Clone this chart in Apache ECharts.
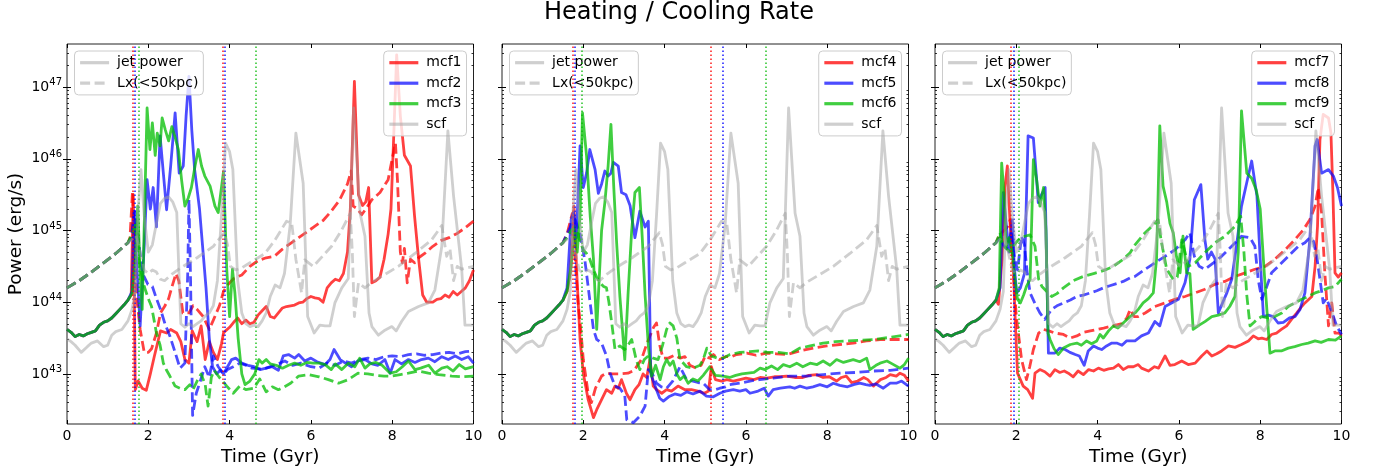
<!DOCTYPE html>
<html>
<head>
<meta charset="utf-8">
<script src="https://cdn.jsdelivr.net/npm/echarts@6/dist/echarts.min.js"></script>
<style>
  html, body { margin: 0; padding: 0; background: #fff; }
  #chart { width: 1379px; height: 474px; }
</style>
</head>
<body>
<div id="chart"></div>
<script>
// values as log10(power / erg s^-1), [time in Gyr, dex]
const scfJet = [[0,43.49],[0.1,43.45],[0.2,43.4],[0.35,43.3],[0.5,43.38],[0.6,43.43],[0.75,43.46],[0.9,43.38],[1.0,43.4],[1.1,43.54],[1.2,43.59],[1.35,43.62],[1.5,43.74],[1.6,43.9],[1.68,44.15],[1.75,45.3],[1.82,45.85],[1.9,45.2],[2.0,44.7],[2.1,44.8],[2.2,45.1],[2.3,45.38],[2.4,45.45],[2.5,45.47],[2.6,45.4],[2.7,45.25],[2.8,43.7],[2.9,43.65],[3.0,43.7],[3.1,43.66],[3.2,43.7],[3.3,43.74],[3.4,43.81],[3.5,43.85],[3.6,43.95],[3.7,44.3],[3.8,45.2],[3.9,46.22],[4.0,46.1],[4.08,45.85],[4.2,44.3],[4.3,43.85],[4.4,43.7],[4.5,43.66],[4.6,43.68],[4.7,43.66],[4.8,43.74],[4.9,43.85],[5.0,44.08],[5.12,44.24],[5.24,44.2],[5.35,44.4],[5.49,45.08],[5.63,46.36],[5.81,45.66],[5.92,43.8],[6.08,43.57],[6.22,43.68],[6.35,43.67],[6.47,43.67],[6.59,43.99],[6.76,44.2],[6.92,44.33],[7.05,46.71],[7.21,45.24],[7.33,44.92],[7.43,43.85],[7.5,43.66],[7.66,43.54],[7.82,43.61],[7.99,43.66],[8.1,43.6],[8.23,43.73],[8.4,43.87],[8.65,43.94],[8.89,43.99],[9.05,44.17],[9.22,44.78],[9.37,46.39],[9.51,45.48],[9.71,44.46],[9.79,43.68],[10,43.68]];
const scfLx = [[0,44.2],[0.3,44.3],[0.6,44.42],[0.9,44.55],[1.2,44.68],[1.5,44.83],[1.7,44.93],[1.8,44.7],[1.9,44.45],[2.0,44.4],[2.1,44.45],[2.2,44.42],[2.3,44.32],[2.4,44.3],[2.5,44.35],[2.6,44.4],[2.8,44.48],[3.0,44.55],[3.2,44.62],[3.4,44.7],[3.6,44.78],[3.8,44.92],[3.87,44.97],[3.95,44.8],[4.02,44.5],[4.15,44.45],[4.3,44.48],[4.5,44.55],[4.7,44.62],[4.87,44.68],[5.12,44.87],[5.4,45.13],[5.53,45.1],[5.63,44.6],[5.72,44.3],[5.77,44.13],[5.85,44.59],[6.06,44.5],[6.3,44.65],[6.51,44.78],[6.75,45.0],[6.97,45.24],[7.02,44.68],[7.07,43.8],[7.17,44.27],[7.33,44.2],[7.5,44.28],[7.74,44.36],[8.15,44.5],[8.56,44.68],[8.97,44.87],[9.22,45.07],[9.34,44.64],[9.42,44.75],[9.51,44.3],[9.6,44.5],[9.71,44.46],[9.85,44.48],[10,44.5]];

// all mcf runs share the same history before the first jet
const mcfJetEarly = [[0,43.62],[0.1,43.58],[0.2,43.52],[0.3,43.55],[0.4,43.53],[0.5,43.56],[0.6,43.58],[0.7,43.6],[0.8,43.68],[0.9,43.72],[1.0,43.74],[1.1,43.78],[1.2,43.84],[1.3,43.9],[1.4,43.96],[1.5,44.03]];
const lxEarly = [[0,44.2],[0.3,44.3],[0.6,44.42],[0.9,44.55],[1.2,44.68],[1.5,44.83]];

const mcf1Jet = [[1.58,44.1],[1.63,45.5],[1.68,42.78],[1.75,42.9],[1.85,42.8],[1.95,42.77],[2.05,43.0],[2.15,43.25],[2.3,43.6],[2.45,43.57],[2.55,43.62],[2.7,43.57],[2.8,43.45],[2.9,43.2],[3.0,43.15],[3.08,43.6],[3.2,43.45],[3.3,43.67],[3.4,43.2],[3.5,43.45],[3.6,43.3],[3.7,43.2],[3.8,43.42],[3.85,43.57],[3.9,43.6],[4.0,43.65],[4.1,43.72],[4.2,43.78],[4.3,43.7],[4.4,43.75],[4.5,43.7],[4.6,43.72],[4.7,43.82],[4.8,43.88],[4.9,43.94],[5.0,43.8],[5.1,43.78],[5.2,43.85],[5.3,43.92],[5.4,43.94],[5.5,43.95],[5.6,43.96],[5.7,43.99],[5.8,44.0],[5.9,44.05],[6.0,44.08],[6.1,44.06],[6.2,44.05],[6.3,44.0],[6.4,44.2],[6.5,44.27],[6.6,44.32],[6.7,44.3],[6.8,44.4],[6.9,44.7],[6.97,45.3],[7.07,47.08],[7.17,45.5],[7.27,45.35],[7.35,45.4],[7.42,45.6],[7.5,44.27],[7.6,44.3],[7.7,44.35],[7.8,44.6],[7.9,44.95],[7.97,45.3],[8.03,46.2],[8.11,47.45],[8.2,46.6],[8.3,46.05],[8.45,45.9],[8.55,45.2],[8.65,44.6],[8.75,44.1],[8.85,44.0],[9.0,44.0],[9.1,44.04],[9.2,44.05],[9.3,44.1],[9.4,44.07],[9.5,44.15],[9.6,44.1],[9.7,44.15],[9.8,44.2],[9.9,44.3],[10,44.45]];
const mcf1Lx = [[1.55,44.9],[1.61,45.53],[1.66,44.8],[1.72,44.04],[1.8,43.62],[1.9,43.3],[2.0,43.3],[2.08,43.35],[2.2,43.57],[2.3,43.85],[2.4,43.94],[2.5,44.05],[2.6,44.25],[2.68,44.4],[2.75,44.3],[2.85,43.85],[3.0,43.85],[3.1,43.95],[3.2,43.9],[3.35,43.8],[3.5,43.62],[3.6,43.75],[3.75,43.95],[3.85,44.15],[3.95,44.24],[4.1,44.33],[4.3,44.38],[4.5,44.5],[4.7,44.58],[4.9,44.62],[5.1,44.64],[5.3,44.74],[5.5,44.82],[5.7,44.9],[5.9,44.98],[6.1,45.06],[6.3,45.14],[6.5,45.27],[6.7,45.42],[6.9,45.65],[6.99,45.83],[7.04,45.34],[7.15,45.3],[7.25,45.22],[7.35,45.3],[7.5,45.43],[7.7,45.53],[7.9,45.71],[8.0,46.0],[8.08,46.22],[8.13,45.7],[8.2,44.7],[8.25,44.55],[8.3,44.75],[8.37,44.27],[8.45,44.6],[8.55,44.55],[8.65,44.62],[8.8,44.68],[9.0,44.78],[9.2,44.86],[9.4,44.9],[9.6,44.96],[9.8,45.04],[10,45.13]];
const mcf2Jet = [[1.6,44.15],[1.65,45.27],[1.72,44.46],[1.8,43.67],[1.9,44.8],[1.97,45.71],[2.05,45.3],[2.12,45.6],[2.2,45.05],[2.29,46.32],[2.37,45.8],[2.45,45.29],[2.55,45.9],[2.66,46.64],[2.76,45.8],[2.86,45.9],[2.93,46.6],[3.0,47.15],[3.07,46.4],[3.14,45.85],[3.26,45.3],[3.42,44.2],[3.5,43.5],[3.58,43.1],[3.68,43.0],[3.77,43.05],[3.85,43.0],[3.95,43.1],[4.05,43.2],[4.15,43.22],[4.3,43.15],[4.45,43.12],[4.6,43.1],[4.75,43.06],[4.9,43.08],[5.05,43.1],[5.2,43.05],[5.32,43.25],[5.45,43.27],[5.6,43.22],[5.7,43.27],[5.85,43.18],[6.0,43.22],[6.15,43.17],[6.35,43.13],[6.47,43.2],[6.57,43.34],[6.72,43.2],[6.85,43.15],[7.0,43.1],[7.15,43.18],[7.33,43.2],[7.5,43.14],[7.65,43.12],[7.82,43.2],[7.95,43.01],[8.07,43.2],[8.23,43.14],[8.4,43.2],[8.56,43.16],[8.72,43.2],[8.89,43.22],[9.05,43.17],[9.22,43.24],[9.38,43.2],[9.55,43.25],[9.71,43.2],[9.87,43.24],[10,43.15]];
const mcf2Lx = [[1.58,44.9],[1.66,45.27],[1.75,44.9],[1.86,44.4],[1.99,44.25],[2.1,44.22],[2.2,44.05],[2.3,43.9],[2.41,43.7],[2.53,43.53],[2.66,43.3],[2.78,43.08],[2.9,43.15],[2.97,44.4],[3.0,45.43],[3.04,44.3],[3.09,42.42],[3.18,42.73],[3.28,42.9],[3.39,43.1],[3.5,42.95],[3.6,43.25],[3.72,43.1],[3.85,43.0],[3.95,43.06],[4.09,43.1],[4.25,43.15],[4.4,43.12],[4.55,43.08],[4.74,43.07],[4.9,43.08],[5.1,43.12],[5.36,43.18],[5.55,43.12],[5.75,43.15],[6.0,43.1],[6.2,43.08],[6.4,43.15],[6.6,43.12],[6.8,43.18],[7.0,43.15],[7.2,43.2],[7.4,43.22],[7.6,43.2],[7.8,43.24],[8.0,43.25],[8.2,43.24],[8.4,43.27],[8.6,43.28],[8.8,43.26],[9.0,43.27],[9.2,43.29],[9.4,43.3],[9.6,43.28],[9.8,43.31],[10,43.32]];
const mcf3Jet = [[1.6,44.12],[1.68,44.6],[1.74,45.34],[1.8,44.4],[1.85,43.9],[1.97,46.71],[2.04,46.13],[2.1,46.5],[2.17,46.05],[2.22,46.36],[2.29,46.18],[2.34,46.57],[2.42,46.4],[2.5,46.25],[2.58,46.45],[2.66,46.3],[2.74,46.13],[2.82,45.7],[2.9,45.34],[2.98,45.45],[3.06,45.6],[3.15,45.9],[3.23,46.13],[3.31,45.9],[3.39,45.76],[3.52,45.62],[3.64,45.34],[3.72,45.25],[3.8,45.6],[3.85,45.82],[3.93,44.46],[4.0,43.8],[4.07,44.46],[4.13,44.13],[4.21,43.5],[4.3,43.0],[4.38,42.85],[4.5,42.9],[4.62,43.0],[4.72,43.2],[4.8,43.15],[4.9,43.2],[5.0,43.14],[5.15,43.12],[5.3,43.08],[5.45,43.12],[5.6,43.15],[5.75,43.12],[5.9,43.16],[6.05,43.15],[6.2,43.15],[6.35,43.13],[6.5,43.06],[6.6,43.14],[6.76,43.06],[6.92,43.15],[7.08,43.1],[7.2,43.22],[7.33,43.08],[7.45,43.14],[7.6,43.16],[7.75,43.12],[7.95,43.01],[8.1,43.03],[8.25,43.1],[8.4,43.18],[8.56,43.06],[8.7,43.08],[8.9,43.12],[9.05,43.01],[9.22,43.08],[9.35,43.1],[9.5,43.04],[9.65,43.13],[9.8,43.07],[10,43.1]];
const mcf3Lx = [[1.6,44.95],[1.7,45.1],[1.79,44.5],[1.9,44.22],[2.0,44.05],[2.08,43.94],[2.2,43.57],[2.29,43.4],[2.37,43.15],[2.45,43.05],[2.53,42.97],[2.66,42.83],[2.78,42.8],[2.9,42.78],[3.02,42.85],[3.1,42.78],[3.2,42.9],[3.3,43.0],[3.4,42.85],[3.47,42.55],[3.55,42.95],[3.62,43.05],[3.75,42.95],[3.93,42.83],[4.09,42.73],[4.25,42.83],[4.4,42.78],[4.6,42.8],[4.74,42.93],[4.9,42.75],[5.05,42.82],[5.2,42.78],[5.35,42.82],[5.5,42.87],[5.7,42.97],[5.94,42.99],[6.2,42.96],[6.43,42.92],[6.68,42.87],[6.92,42.92],[7.16,43.01],[7.4,43.0],[7.6,42.98],[7.8,42.97],[8.0,42.97],[8.2,42.99],[8.4,43.01],[8.64,43.04],[8.89,43.01],[9.14,42.99],[9.47,42.97],[9.7,42.96],[10,42.97]];

const mcf4Jet = [[1.6,44.15],[1.68,44.4],[1.77,45.34],[1.84,44.4],[1.92,43.48],[2.0,43.01],[2.12,42.64],[2.25,42.39],[2.33,42.5],[2.45,42.64],[2.57,42.78],[2.7,42.73],[2.78,42.83],[2.86,42.8],[2.94,42.92],[3.06,42.73],[3.15,42.64],[3.27,42.78],[3.37,42.85],[3.47,43.0],[3.56,42.95],[3.64,43.2],[3.72,42.83],[3.8,42.78],[3.93,42.73],[4.05,42.78],[4.17,42.76],[4.33,42.83],[4.5,42.78],[4.66,42.78],[4.82,42.76],[4.98,42.73],[5.08,42.76],[5.15,43.1],[5.25,42.92],[5.4,42.9],[5.53,42.92],[5.69,42.9],[5.85,42.92],[6.0,42.94],[6.2,42.92],[6.35,42.95],[6.51,42.94],[6.7,42.96],[6.85,42.96],[7.0,42.97],[7.2,42.95],[7.4,42.95],[7.55,42.98],[7.74,42.99],[7.9,42.95],[8.05,42.96],[8.23,42.9],[8.35,42.95],[8.47,42.97],[8.6,42.88],[8.75,42.9],[8.9,42.95],[9.0,42.92],[9.14,42.83],[9.31,42.92],[9.45,42.95],[9.55,42.99],[9.7,42.97],[9.79,43.01],[9.9,42.98],[10,42.9]];
const mcf4Lx = [[1.6,44.95],[1.73,45.24],[1.8,44.6],[1.87,44.0],[1.93,43.67],[2.0,43.2],[2.12,42.73],[2.2,42.6],[2.3,42.8],[2.45,42.97],[2.57,43.01],[2.7,43.0],[2.9,43.0],[3.1,43.01],[3.25,43.05],[3.43,43.2],[3.55,43.4],[3.64,43.53],[3.73,43.65],[3.8,43.71],[3.88,43.4],[3.96,43.22],[4.09,43.22],[4.25,43.26],[4.38,43.22],[4.5,43.24],[4.62,43.12],[4.78,43.08],[4.9,43.12],[5.0,43.25],[5.1,43.22],[5.2,43.27],[5.35,43.2],[5.5,43.24],[5.65,43.24],[5.77,43.27],[6.02,43.29],[6.25,43.26],[6.51,43.29],[6.75,43.28],[7.0,43.27],[7.2,43.3],[7.4,43.33],[7.66,43.36],[7.99,43.39],[8.31,43.41],[8.64,43.43],[8.97,43.46],[9.3,43.48],[9.63,43.48],[10,43.48]];
const mcf5Jet = [[1.6,44.2],[1.7,45.15],[1.76,45.25],[1.83,44.9],[1.92,46.18],[2.0,45.6],[2.08,45.8],[2.16,46.13],[2.29,45.85],[2.37,45.52],[2.45,45.65],[2.53,45.83],[2.61,45.76],[2.68,45.8],[2.74,45.95],[2.86,45.9],[2.94,45.53],[3.05,45.5],[3.15,45.35],[3.27,44.9],[3.39,45.27],[3.52,45.05],[3.6,45.13],[3.66,43.0],[3.8,42.78],[3.88,42.66],[3.97,42.62],[4.1,42.68],[4.25,42.72],[4.4,42.7],[4.55,42.75],[4.7,42.72],[4.87,42.76],[5.03,42.69],[5.2,42.68],[5.36,42.73],[5.5,42.76],[5.69,42.78],[5.85,42.76],[6.0,42.78],[6.1,42.73],[6.3,42.76],[6.45,42.8],[6.55,42.69],[6.67,42.78],[6.85,42.8],[7.08,42.82],[7.2,42.8],[7.33,42.83],[7.5,42.8],[7.65,42.82],[7.82,42.85],[8.0,42.82],[8.15,42.87],[8.31,42.84],[8.5,42.82],[8.65,42.85],[8.8,42.87],[8.95,42.85],[9.05,42.84],[9.2,42.86],[9.38,42.8],[9.55,42.87],[9.7,42.87],[9.83,42.9],[10,42.83]];
const mcf5Lx = [[1.6,44.95],[1.72,45.1],[1.8,45.15],[1.92,44.95],[2.04,44.58],[2.16,44.03],[2.25,43.62],[2.33,43.48],[2.45,43.43],[2.57,43.25],[2.66,43.01],[2.78,42.83],[2.9,42.8],[3.02,42.7],[3.07,42.36],[3.23,42.32],[3.39,42.41],[3.52,42.55],[3.6,43.06],[3.7,43.0],[3.8,42.87],[3.92,42.82],[4.05,42.8],[4.2,42.9],[4.38,43.1],[4.54,42.92],[4.7,42.9],[4.82,42.88],[4.95,42.87],[5.11,42.78],[5.25,42.78],[5.36,42.8],[5.5,42.82],[5.6,42.85],[5.85,42.87],[6.1,42.9],[6.34,42.92],[6.67,42.94],[7.08,42.97],[7.49,42.97],[7.9,42.99],[8.31,43.01],[8.7,43.02],[9.13,43.04],[9.55,43.05],[10,43.08]];
const mcf6Jet = [[1.6,44.15],[1.7,44.5],[1.78,45.0],[1.85,44.7],[1.92,45.2],[1.98,46.64],[2.08,46.04],[2.17,45.2],[2.25,44.6],[2.33,43.62],[2.45,45.0],[2.53,45.39],[2.61,45.9],[2.68,46.48],[2.75,45.6],[2.82,44.83],[2.9,44.08],[3.02,43.2],[3.1,44.1],[3.19,45.0],[3.27,45.53],[3.38,45.6],[3.45,44.9],[3.52,44.1],[3.6,43.39],[3.68,42.97],[3.78,43.12],[3.89,42.92],[3.97,43.1],[4.05,43.2],[4.13,43.12],[4.21,43.18],[4.3,43.0],[4.38,42.92],[4.48,42.97],[4.58,42.87],[4.7,42.93],[4.82,42.9],[4.95,42.98],[5.11,43.1],[5.25,42.98],[5.44,42.97],[5.6,42.95],[5.75,42.98],[5.9,43.0],[6.05,43.01],[6.2,43.02],[6.35,43.08],[6.47,43.06],[6.63,43.11],[6.78,43.06],[6.92,43.13],[7.08,43.1],[7.25,43.15],[7.4,43.1],[7.58,43.15],[7.75,43.13],[7.9,43.18],[8.07,43.12],[8.23,43.2],[8.4,43.16],[8.64,43.2],[8.8,43.17],[8.97,43.22],[9.05,43.06],[9.2,43.12],[9.3,43.15],[9.47,43.18],[9.6,43.14],[9.79,43.08],[9.9,43.13],[10,43.22]];
const mcf6Lx = [[1.6,44.9],[1.7,45.0],[1.78,45.05],[1.84,45.0],[1.92,44.85],[2.0,44.73],[2.08,44.68],[2.16,44.6],[2.25,44.45],[2.33,44.35],[2.41,44.27],[2.5,44.22],[2.57,44.2],[2.63,44.0],[2.7,43.71],[2.78,43.34],[2.9,43.39],[3.02,43.34],[3.1,43.4],[3.19,43.48],[3.3,43.2],[3.39,43.06],[3.5,43.2],[3.6,43.25],[3.72,43.22],[3.84,43.2],[3.95,43.4],[4.05,43.62],[4.13,43.71],[4.21,43.67],[4.3,43.5],[4.38,43.2],[4.54,43.1],[4.7,43.08],[4.87,43.12],[4.95,43.2],[5.04,43.36],[5.15,43.25],[5.3,43.22],[5.44,43.22],[5.61,43.27],[5.85,43.3],[6.1,43.31],[6.3,43.32],[6.51,43.3],[6.8,43.3],[7.08,43.28],[7.33,43.36],[7.58,43.39],[7.9,43.43],[8.2,43.45],[8.47,43.46],[8.8,43.47],[9.14,43.48],[9.55,43.51],[10,43.55]];

const mcf7Jet = [[1.56,43.97],[1.65,44.6],[1.72,45.6],[1.78,45.9],[1.85,45.06],[1.92,44.6],[1.97,43.8],[2.03,43.01],[2.17,42.83],[2.28,42.78],[2.4,42.66],[2.46,43.01],[2.58,43.06],[2.7,43.03],[2.83,42.97],[2.95,43.06],[3.07,43.02],[3.18,43.04],[3.28,43.01],[3.4,42.96],[3.52,43.04],[3.65,42.99],[3.78,43.06],[3.9,43.04],[4.02,43.08],[4.15,43.05],[4.27,43.07],[4.39,43.08],[4.51,43.13],[4.63,43.06],[4.75,43.1],[4.88,43.1],[5.0,43.13],[5.08,43.08],[5.25,43.04],[5.4,43.1],[5.5,43.08],[5.66,43.25],[5.78,43.12],[5.9,43.13],[6.07,43.18],[6.23,43.13],[6.4,43.15],[6.56,43.25],[6.69,43.32],[6.81,43.25],[6.93,43.28],[7.05,43.32],[7.22,43.39],[7.38,43.37],[7.54,43.41],[7.71,43.46],[7.83,43.53],[7.95,43.49],[8.04,43.5],[8.16,43.48],[8.28,43.55],[8.4,43.57],[8.52,43.62],[8.65,43.67],[8.77,43.76],[8.9,43.85],[9.02,43.94],[9.1,43.99],[9.27,44.08],[9.35,44.5],[9.41,45.06],[9.47,46.27],[9.55,46.62],[9.68,46.57],[9.74,46.36],[9.79,45.5],[9.84,44.41],[9.92,44.35],[10,44.41]];
const mcf7Lx = [[1.6,44.95],[1.7,45.0],[1.78,45.05],[1.85,45.15],[1.92,44.5],[2.0,43.8],[2.05,43.57],[2.13,43.2],[2.25,42.92],[2.33,43.1],[2.42,43.34],[2.55,43.57],[2.67,43.62],[2.8,43.6],[2.95,43.57],[3.16,43.55],[3.33,43.5],[3.49,43.53],[3.65,43.58],[3.82,43.6],[3.98,43.62],[4.15,43.64],[4.3,43.66],[4.45,43.68],[4.6,43.7],[4.72,43.78],[4.8,43.9],[4.9,43.8],[5.0,43.8],[5.17,43.85],[5.41,43.94],[5.66,43.99],[5.9,44.04],[6.15,44.08],[6.4,44.13],[6.64,44.18],[6.89,44.25],[7.13,44.29],[7.38,44.36],[7.63,44.41],[7.87,44.46],[8.12,44.5],[8.36,44.6],[8.61,44.73],[8.85,44.87],[9.06,45.01],[9.22,45.15],[9.35,45.34],[9.43,45.6],[9.51,45.25],[9.59,44.41],[9.68,43.67],[9.76,43.99],[9.84,43.57],[9.94,43.57],[10,43.53]];
const mcf8Jet = [[1.6,44.2],[1.68,45.53],[1.75,45.1],[1.82,44.7],[1.9,45.15],[1.95,44.5],[2.01,44.13],[2.1,44.2],[2.2,44.4],[2.29,46.32],[2.42,46.29],[2.5,45.71],[2.54,45.39],[2.62,45.5],[2.71,45.6],[2.79,43.29],[2.95,43.29],[3.07,43.36],[3.2,43.34],[3.32,43.3],[3.45,43.27],[3.55,43.25],[3.67,43.12],[3.77,43.32],[3.9,43.39],[4.0,43.36],[4.1,43.34],[4.22,43.39],[4.35,43.43],[4.47,43.43],[4.6,43.4],[4.71,43.46],[4.84,43.46],[4.92,43.46],[5.08,43.53],[5.25,43.57],[5.41,43.73],[5.53,43.67],[5.66,43.94],[5.82,43.99],[5.99,44.04],[6.15,44.27],[6.27,44.6],[6.38,45.43],[6.54,45.64],[6.64,44.87],[6.71,44.6],[6.8,44.7],[6.89,44.6],[6.97,43.85],[7.08,44.0],[7.18,44.13],[7.3,44.32],[7.42,44.8],[7.54,45.34],[7.67,45.67],[7.79,45.97],[7.92,45.48],[8.0,44.6],[8.08,43.8],[8.2,43.82],[8.32,43.8],[8.44,43.71],[8.57,43.72],[8.72,43.78],[8.86,43.8],[8.98,43.9],[9.1,44.13],[9.22,44.87],[9.35,46.18],[9.4,46.27],[9.51,45.8],[9.68,45.85],[9.8,45.76],[9.9,45.6],[10,45.34]];
const mcf8Lx = [[1.6,44.9],[1.68,44.8],[1.76,44.75],[1.82,44.85],[1.89,45.0],[1.96,44.6],[2.03,44.45],[2.13,44.92],[2.2,44.8],[2.27,44.4],[2.34,44.13],[2.46,43.98],[2.58,43.85],[2.7,43.76],[2.87,43.9],[3.0,43.95],[3.16,43.99],[3.33,44.03],[3.49,44.08],[3.65,44.1],[3.82,44.13],[3.98,44.16],[4.14,44.2],[4.3,44.23],[4.47,44.26],[4.63,44.29],[4.8,44.34],[4.92,44.36],[5.17,44.46],[5.41,44.55],[5.66,44.64],[5.9,44.73],[6.15,44.87],[6.27,44.97],[6.38,44.64],[6.5,44.5],[6.64,44.46],[6.85,44.55],[7.05,44.64],[7.3,44.78],[7.54,44.92],[7.75,44.9],[7.87,44.78],[7.95,44.32],[8.04,44.04],[8.15,44.2],[8.28,44.41],[8.44,44.5],[8.69,44.64],[8.94,44.78],[9.1,44.83],[9.22,44.9],[9.31,44.85],[9.39,44.64],[9.47,44.32],[9.55,43.99],[9.63,44.05],[9.71,43.94],[9.8,43.8],[9.88,43.67],[10,43.55]];
const mcf9Jet = [[1.58,44.2],[1.64,45.94],[1.7,45.5],[1.75,44.78],[1.82,44.9],[1.9,44.7],[1.97,44.3],[2.03,44.04],[2.1,43.99],[2.18,44.1],[2.25,44.22],[2.34,44.32],[2.42,45.99],[2.5,45.71],[2.58,45.34],[2.67,45.6],[2.73,45.0],[2.78,43.57],[2.83,43.48],[2.93,43.35],[3.03,43.27],[3.16,43.36],[3.33,43.41],[3.49,43.43],[3.6,43.4],[3.73,43.46],[3.85,43.42],[3.98,43.46],[4.06,43.55],[4.14,43.5],[4.27,43.6],[4.39,43.67],[4.5,43.64],[4.63,43.71],[4.8,43.8],[4.92,43.85],[5.0,43.9],[5.12,43.99],[5.25,44.05],[5.37,44.13],[5.45,44.6],[5.53,46.46],[5.61,45.62],[5.7,45.4],[5.78,45.1],[5.86,44.97],[5.94,44.64],[6.03,44.41],[6.1,44.92],[6.19,44.41],[6.27,44.4],[6.35,43.62],[6.5,43.68],[6.64,43.73],[6.81,43.8],[6.97,43.82],[7.13,43.85],[7.25,43.94],[7.38,44.08],[7.46,44.69],[7.54,46.67],[7.67,45.8],[7.79,45.73],[7.9,45.57],[8.0,45.3],[8.1,44.41],[8.24,43.29],[8.36,43.32],[8.52,43.32],[8.69,43.36],[8.85,43.38],[9.02,43.41],[9.18,43.43],[9.35,43.46],[9.5,43.44],[9.68,43.48],[9.85,43.47],[10,43.53]];
const mcf9Lx = [[1.6,44.97],[1.67,44.8],[1.75,44.75],[1.85,44.7],[1.95,44.8],[2.05,44.87],[2.13,44.9],[2.21,44.92],[2.34,44.94],[2.46,44.78],[2.55,44.32],[2.63,44.22],[2.75,44.15],[2.87,44.08],[3.0,44.12],[3.16,44.2],[3.4,44.3],[3.65,44.36],[3.9,44.4],[4.14,44.44],[4.39,44.5],[4.63,44.6],[4.8,44.69],[4.92,44.8],[5.17,44.97],[5.41,45.1],[5.49,45.15],[5.56,44.87],[5.7,44.46],[5.86,44.32],[5.96,44.35],[6.07,44.87],[6.15,44.7],[6.23,44.5],[6.4,44.55],[6.64,44.69],[6.89,44.83],[7.13,44.92],[7.38,45.06],[7.52,45.2],[7.6,44.7],[7.67,44.1],[7.75,43.67],[7.85,43.72],[7.92,43.76],[8.04,43.8],[8.2,43.78],[8.36,43.8],[8.53,43.85],[8.69,43.94],[8.85,43.99],[9.02,44.04],[9.18,44.08],[9.35,44.13],[9.51,44.16],[9.68,44.2],[9.84,44.22],[10,44.32]];

// jet onset times (dotted verticals), one entry per panel
const onsetRed = [[1.62, 3.83], [1.75, 5.13], [1.87]];
const onsetBlue = [[1.66, 3.89], [1.79, 5.42], [1.93]];
const onsetGreen = [[1.76, 4.65], [1.95, 6.48], [2.06]];

const runNames = [["mcf1", "mcf2", "mcf3"], ["mcf4", "mcf5", "mcf6"], ["mcf7", "mcf8", "mcf9"]];
const jetRuns = [[mcf1Jet, mcf2Jet, mcf3Jet], [mcf4Jet, mcf5Jet, mcf6Jet], [mcf7Jet, mcf8Jet, mcf9Jet]];
const lxRuns = [[mcf1Lx, mcf2Lx, mcf3Lx], [mcf4Lx, mcf5Lx, mcf6Lx], [mcf7Lx, mcf8Lx, mcf9Lx]];
const onsets = [onsetRed, onsetBlue, onsetGreen];

const majorTicks = [1e43, 1e44, 1e45, 1e46, 1e47];

const FONT = "DejaVu Sans";
const lineColors = ["rgba(255,0,0,0.75)", "rgba(0,0,255,0.7)", "rgba(0,190,0,0.75)"];
const dotColors = ["rgba(255,0,0,0.85)", "rgba(0,0,255,0.85)", "rgba(0,185,0,0.8)"];
const GRAY = "rgba(160,160,160,0.5)";
const LW = 2.8;
const DASH = [10, 4.5];

const plotLeft = [67, 502, 935];
const plotW = 406.5, plotTop = 44, plotH = 380;
const yMin = 2e42, yMax = 4e47;

// matplotlib-style log minor ticks: 2..9 x 10^k
let minorTicks = [];
for (let k = 42; k <= 47; k++) {
  for (let m = 2; m <= 9; m++) {
    let v = m * Math.pow(10, k);
    if (v > yMin && v < yMax) minorTicks.push(v);
  }
}

function toPower(arr) {
  return arr.map(function (p) { return [p[0], Math.pow(10, p[1])]; });
}

function lineSeries(name, pts, color, dashed, gi, z) {
  return {
    type: "line",
    name: name,
    xAxisIndex: 2 * gi,
    yAxisIndex: 4 * gi,
    data: toPower(pts),
    symbol: "none",
    showSymbol: false,
    z: z,
    silent: true,
    animation: false,
    emphasis: { disabled: true },
    itemStyle: { color: color },
    lineStyle: { color: color, width: LW, type: dashed ? DASH : "solid", join: "round" },
  };
}

let grids = [], xAxes = [], yAxes = [], series = [], legends = [];

plotLeft.forEach(function (left, gi) {
  grids.push({
    left: left, top: plotTop, width: plotW, height: plotH,
    show: true, borderColor: "#222", borderWidth: 1,
    backgroundColor: "rgba(0,0,0,0)",
    containLabel: false, outerBoundsMode: "none",
  });

  let xBase = {
    gridIndex: gi, type: "value", min: 0, max: 10, interval: 2,
    axisLine: { show: false },
    splitLine: { show: false },
    axisTick: { inside: true, length: 4, lineStyle: { color: "#000", width: 1 } },
  };
  xAxes.push(Object.assign({}, xBase, {
    position: "bottom",
    axisLabel: { fontSize: 14, color: "#000", fontFamily: FONT, margin: 5 },
    name: "Time (Gyr)", nameLocation: "middle", nameGap: 23,
    nameTextStyle: { fontSize: 18.5, color: "#000", fontFamily: FONT },
  }));
  xAxes.push(Object.assign({}, xBase, { position: "top", axisLabel: { show: false } }));

  let yBase = {
    gridIndex: gi, type: "log", logBase: 10, min: yMin, max: yMax,
    axisLine: { show: false },
    splitLine: { show: false },
    axisLabel: { show: false },
  };
  let majorTick = { inside: true, length: 4, customValues: majorTicks, lineStyle: { color: "#000", width: 1 } };
  let minorTick = { inside: true, length: 2, customValues: minorTicks, lineStyle: { color: "#000", width: 0.8 } };
  let leftMajor = Object.assign({}, yBase, { position: "left", axisTick: majorTick });
  if (gi === 0) {
    leftMajor.axisLabel = {
      show: true, customValues: majorTicks, margin: 5, color: "#000", fontFamily: FONT, fontSize: 14,
      formatter: function (v) {
        let e = String(Math.round(Math.log10(v)));
        return "{b|10}{s|" + e + "}";
      },
      rich: {
        b: { fontSize: 14, color: "#000", fontFamily: FONT },
        s: { fontSize: 10, color: "#000", fontFamily: FONT, padding: [0, 0, 9, 0] },
      },
    };
    leftMajor.name = "Power (erg/s)";
    leftMajor.nameLocation = "middle";
    leftMajor.nameGap = 41;
    leftMajor.nameTextStyle = { fontSize: 18.5, color: "#000", fontFamily: FONT };
  }
  yAxes.push(leftMajor);
  yAxes.push(Object.assign({}, yBase, { position: "right", axisTick: majorTick }));
  yAxes.push(Object.assign({}, yBase, { position: "left", axisTick: minorTick }));
  yAxes.push(Object.assign({}, yBase, { position: "right", axisTick: minorTick }));

  // mcf runs: solid = jet power, dashed = Lx
  runNames[gi].forEach(function (nm, k) {
    let s = lineSeries(nm, mcfJetEarly.concat(jetRuns[gi][k]), lineColors[k], false, gi, 2 + k);
    s.markLine = {
      silent: true, animation: false, symbol: ["none", "none"],
      label: { show: false },
      lineStyle: { color: dotColors[k], width: 1.6, type: [1.6, 2.4] },
      data: onsets[k][gi].map(function (t) { return { xAxis: t }; }),
    };
    series.push(s);
    series.push(lineSeries(nm, lxEarly.concat(lxRuns[gi][k]), lineColors[k], true, gi, 2 + k));
  });
  series.push(lineSeries("scf", scfJet, GRAY, false, gi, 6));
  series.push(lineSeries("Lx(<50kpc)", scfLx, GRAY, true, gi, 6));

  let legendBase = {
    orient: "vertical", top: 51,
    itemWidth: 29, itemHeight: 14, itemGap: 6.5,
    padding: [4.7, 5, 4.7, 4],
    backgroundColor: "rgba(255,255,255,0.8)",
    borderColor: "#cccccc", borderWidth: 1, borderRadius: 4,
    selectedMode: false,
    itemStyle: { opacity: 0 },
    lineStyle: { width: 3.2 },
    textStyle: { fontSize: 14, color: "#000", fontFamily: FONT, padding: [0, 0, 0, 3] },
  };
  legends.push(Object.assign({}, legendBase, { left: left + 7.5, data: ["jet power", "Lx(<50kpc)"] }));
  legends.push(Object.assign({}, legendBase, {
    right: 1379 - (left + plotW - 7),
    data: runNames[gi].concat(["scf"]),
  }));
});

// style-only entry for the left legend
series.push(lineSeries("jet power", [], GRAY, false, 0, 1));

const chart = echarts.init(document.getElementById("chart"), null, { renderer: "canvas" });
chart.setOption({
  animation: false,
  backgroundColor: "#fff",
  textStyle: { fontFamily: FONT },
  graphic: [{
    type: "text", x: 679, y: 13,
    style: { text: "Heating / Cooling Rate", font: "24px 'DejaVu Sans'", fill: "#000", align: "center", verticalAlign: "middle" },
  }],
  grid: grids,
  xAxis: xAxes,
  yAxis: yAxes,
  legend: legends,
  series: series,
});
window.addEventListener("resize", function () { chart.resize(); });
</script>
</body>
</html>
